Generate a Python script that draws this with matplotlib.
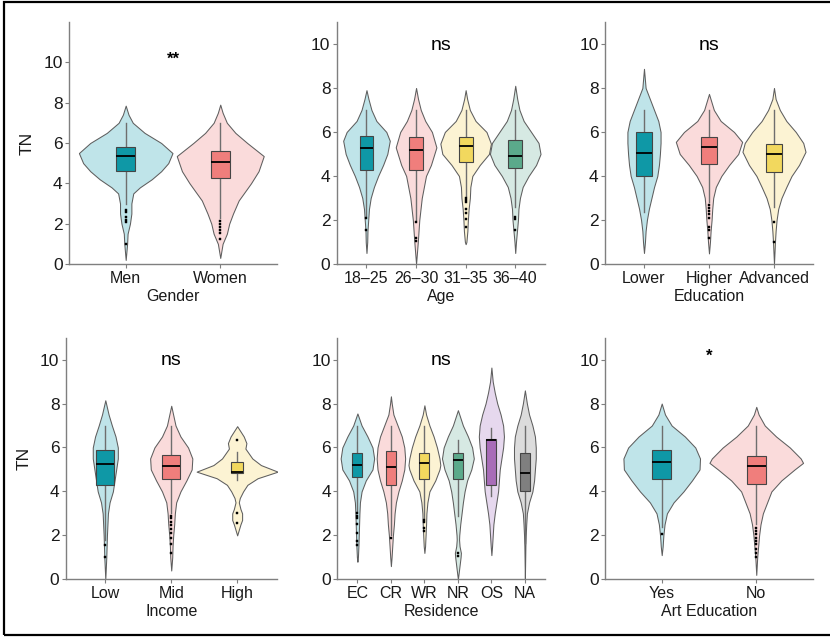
import matplotlib
matplotlib.use("Agg")
import matplotlib.pyplot as plt
from matplotlib.patches import Rectangle

plt.rcParams['font.family'] = ['Liberation Sans', 'DejaVu Sans']

# ---- data ----
# violin outlines: (TN value, full width in category units)
gender_labels = ["Men", "Women"]
gender_violin = [
    [(0.2, 0), (1, .03), (1.5, .04), (2, .09), (2.5, .12), (3, .12), (3.5, .16), (3.8, .3), (4.2, .55),
     (4.6, .75), (5, .9), (5.5, .99), (6, .75), (6.5, .4), (7, .15), (7.4, .06), (7.85, 0)],
    [(0.3, 0), (1, .05), (1.5, .14), (2, .19), (2.5, .27), (3.15, .39), (4, .65), (4.6, .81), (5.35, .92),
     (6, .57), (6.5, .32), (7, .14), (7.5, .05), (7.9, 0)],
]
gender_box = [(4.63, 5.35, 5.81, 2.95, 7.0), (4.27, 5.07, 5.62, 2.3, 7.0)]
gender_out = [[2.7, 2.6, 2.35, 2.2, 2.1, 1.0], [2.15, 2.0, 1.85, 1.7, 1.55, 1.22]]

age_labels = ["18\u201325", "26\u201330", "31\u201335", "36\u201340"]
age_violin = [
    [(0.5, 0), (1, .03), (1.5, .04), (2, .07), (2.5, .1), (3, .17), (3.5, .3), (4, .47), (4.5, .67), (5, .84),
     (5.6, .94), (6, .8), (6.5, .4), (7, .2), (7.5, .08), (7.9, 0)],
    [(0, 0), (1, .07), (2, .13), (3, .23), (4, .4), (4.5, .6), (5.3, .82), (6, .64), (6.5, .37), (7, .19),
     (7.5, .08), (8.0, 0)],
    [(0.9, 0), (1, .03), (1.5, .07), (2, .09), (2.5, .12), (3, .17), (3.5, .19), (4, .27), (4.5, .57), (5, .94),
     (5.47, 1.02), (6, .84), (6.5, .4), (7, .17), (7.5, .06), (7.9, 0)],
    [(0.5, 0), (1, .03), (1.5, .07), (2, .11), (2.5, .13), (3, .19), (3.5, .3), (4, .54), (4.5, .84), (5, 1.02),
     (5.5, .94), (6, .64), (6.5, .34), (7, .17), (7.5, .08), (8.1, 0)],
]
age_box = [(4.29, 5.29, 5.82, 2.2, 7.0), (4.29, 5.2, 5.77, 2.0, 7.0),
           (4.65, 5.38, 5.76, 3.1, 7.0), (4.38, 4.92, 5.65, 2.6, 7.0)]
age_out = [[2.1, 1.55], [1.9, 1.2, 1.05], [3.0, 2.9, 2.8, 2.5, 2.3, 2.05, 1.7], [2.15, 2.05, 1.55]]

edu_labels = ["Lower", "Higher", "Advanced"]
edu_violin = [
    [(0.5, 0), (1, .03), (1.5, .05), (2, .09), (2.5, .15), (3, .23), (3.5, .31), (4, .41), (4.5, .46), (5, .49),
     (5.5, .51), (6, .51), (6.5, .44), (7, .31), (7.5, .18), (8, .05), (8.87, 0)],
    [(0.48, 0), (1, .03), (1.5, .05), (2, .08), (2.5, .1), (3, .13), (3.5, .21), (4, .38), (4.5, .62), (5, .9),
     (5.55, 1.02), (6, .77), (6.5, .36), (7, .15), (7.73, 0)],
    [(0, 0), (1, .03), (1.5, .05), (2, .08), (2.5, .13), (3, .23), (3.5, .38), (4, .54), (4.5, .77), (5.1, .97),
     (5.5, .9), (6, .67), (6.5, .38), (7, .18), (7.5, .05), (8.0, 0)],
]
edu_box = [(3.99, 5.06, 6.0, 2.36, 7.0), (4.56, 5.3, 5.76, 2.8, 7.0), (4.18, 5.02, 5.47, 2.6, 7.0)]
edu_out = [[], [2.7, 2.55, 2.4, 2.25, 2.1, 1.7, 1.55, 1.2], [1.9, 1.0]]

inc_labels = ["Low", "Mid", "High"]
inc_violin = [
    [(0, 0), (1, .03), (2, .05), (3, .08), (3.5, .13), (4, .23), (4.5, .28), (5, .33), (5.5, .38), (6, .38),
     (6.5, .31), (7, .2), (7.5, .1), (8.15, 0)],
    [(0.4, 0), (1, .03), (1.5, .04), (2, .06), (2.5, .09), (3, .11), (3.5, .15), (4, .28), (4.5, .46), (5, .62),
     (5.5, .64), (6, .51), (6.5, .28), (7, .13), (7.9, 0)],
    [(2.0, 0), (2.2, .04), (2.5, .1), (2.7, .15), (3.0, .15), (3.2, .1), (3.5, .05), (3.7, .08), (4, .18),
     (4.3, .31), (4.6, .62), (4.9, 1.23), (5.2, .72), (5.5, .46), (5.95, .25), (6.2, .28), (6.5, .2),
     (6.97, 0)],
]
inc_box = [(4.27, 5.27, 5.9, 1.8, 7.0), (4.55, 5.18, 5.64, 3.0, 7.0), (4.82, 4.9, 5.35, 4.5, 5.8)]
inc_out = [[1.55, 1.0], [2.9, 2.8, 2.6, 2.45, 2.3, 2.1, 1.9, 1.6, 1.2], [6.35, 3.0, 2.55]]

res_labels = ["EC", "CR", "WR", "NR", "OS", "NA"]
res_violin = [
    [(0.8, 0), (1, .03), (1.5, .06), (2, .08), (2.5, .1), (3, .12), (3.5, .15), (4, .25), (4.5, .5), (5, .9),
     (5.5, 1.0), (6, .9), (6.5, .6), (7, .25), (7.55, 0)],
    [(0.6, 0), (1, .04), (1.5, .08), (2, .12), (2.5, .18), (3, .22), (3.5, .3), (4, .45), (4.5, .65), (5, .8),
     (5.5, .85), (6, .8), (6.5, .65), (7, .4), (7.5, .15), (8, .05), (8.33, 0)],
    [(1.2, 0), (1.5, .04), (2, .07), (2.5, .1), (3, .12), (3.5, .18), (4, .3), (4.5, .65), (5, .9), (5.2, .95),
     (5.5, .9), (6, .75), (6.5, .55), (7, .3), (7.5, .1), (7.92, 0)],
    [(0, 0), (0.5, .08), (1, .16), (1.2, .18), (1.5, .1), (1.8, .07), (2, .08), (2.5, .14), (3, .22), (3.5, .3),
     (4, .4), (4.5, .55), (5, .8), (5.5, .95), (6, .85), (6.5, .6), (7, .3), (7.7, 0)],
    [(1.1, 0), (1.5, .04), (2, .08), (2.5, .12), (3, .2), (3.5, .3), (4, .4), (4.5, .45), (5, .5), (5.5, .6),
     (6, .7), (6.5, .75), (7, .7), (7.5, .55), (8, .35), (8.5, .2), (9, .08), (9.64, 0)],
    [(0, 0), (1, .02), (1.5, .03), (2, .05), (2.5, .08), (3, .12), (3.5, .25), (4, .45), (4.5, .55), (5, .6),
     (5.5, .65), (6, .65), (6.5, .6), (7, .45), (7.5, .25), (8, .12), (8.6, 0)],
]
res_box = [(4.65, 5.2, 5.75, 3.1, 7.0), (4.28, 5.1, 5.83, 2.0, 7.0), (4.55, 5.28, 5.75, 2.8, 7.0),
           (4.55, 5.42, 5.75, 2.9, 6.33), (4.28, 6.35, 6.38, 3.8, 6.9), (4.0, 4.82, 5.75, 1.64, 7.0)]
res_out = [[3.0, 2.9, 2.8, 2.5, 2.1, 1.75, 1.55], [1.9], [2.7, 2.6, 2.35, 2.2], [1.2, 1.05], [], []]

art_labels = ["Yes", "No"]
art_violin = [
    [(1.1, 0), (1.5, .02), (2, .035), (2.5, .06), (3, .11), (3.5, .25), (4, .46), (4.5, .64), (5, .8),
     (5.5, .81), (6, .71), (6.5, .49), (7, .21), (7.5, .07), (8.0, 0)],
    [(0.2, 0), (1, .02), (1.5, .04), (2, .06), (2.5, .09), (3, .14), (3.5, .23), (4, .32), (4.5, .53), (5, .81),
     (5.3, .99), (5.5, .94), (6, .71), (6.5, .42), (7, .18), (7.5, .05), (7.85, 0)],
]
art_box = [(4.55, 5.32, 5.9, 2.4, 7.0), (4.36, 5.18, 5.62, 2.5, 7.0)]
art_out = [[2.05], [2.35, 2.2, 2.05, 1.9, 1.75, 1.6, 1.4, 1.2, 1.0]]

light = ["#BFE4E9", "#FADBDB", "#FCF3D3", "#D6E9E3", "#E6D8EE", "#DCDCDC"]
dark = ["#0F98A6", "#F07E7C", "#F2D85E", "#5BAA8B", "#A86CB8", "#7F7F7F"]


def panel(ax, labels, violins, boxes, outs, xlabel, sig, ymax, boxw, ylabel=None):
    for i, prof in enumerate(violins):
        pos = i + 1
        ys = [p[0] for p in prof]
        ws = [p[1] / 2 for p in prof]
        ax.fill_betweenx(ys, [pos - w for w in ws], [pos + w for w in ws],
                         facecolor=light[i], edgecolor="#5E5E5E", linewidth=0.75, zorder=1)
    stats = []
    for (q1, med, q3, lo, hi), fl in zip(boxes, outs):
        stats.append(dict(q1=q1, med=med, q3=q3, whislo=lo, whishi=hi, fliers=fl))
    bp = ax.bxp(stats, positions=range(1, len(stats) + 1), widths=boxw, patch_artist=True,
                showcaps=False, manage_ticks=False,
                whiskerprops=dict(color="#6E6E6E", linewidth=1.0),
                medianprops=dict(color="black", linewidth=1.3),
                flierprops=dict(marker="s", markersize=1.7, markerfacecolor="black",
                                markeredgecolor="black", markeredgewidth=0.3))
    for i, b in enumerate(bp["boxes"]):
        b.set_facecolor(dark[i])
        b.set_edgecolor("#454545")
        b.set_linewidth(0.8)
        b.set_zorder(3)
    for k in ("whiskers", "medians", "fliers"):
        for a in bp[k]:
            a.set_zorder(4 if k != "whiskers" else 2)

    n = len(labels)
    ax.set_xlim(0.4, n + 0.6)
    ax.set_ylim(0, ymax)
    ax.set_xticks(range(1, n + 1))
    ax.set_xticklabels(labels)
    ax.set_yticks([0, 2, 4, 6, 8, 10])
    ax.tick_params(colors="#7F7F7F", labelcolor="#1A1A1A", labelsize=11.5, length=3, width=0.8, pad=2)
    ax.tick_params(axis="y", labelsize=12.5, pad=1.5)
    for s in ("top", "right"):
        ax.spines[s].set_visible(False)
    for s in ("left", "bottom"):
        ax.spines[s].set_color("#7F7F7F")
        ax.spines[s].set_linewidth(1.0)
    ax.set_xlabel(xlabel, fontsize=11.5, color="#1A1A1A", labelpad=2)
    if ylabel:
        ax.set_ylabel(ylabel, fontsize=12.5, color="#1A1A1A", labelpad=6)
    if sig.startswith("*"):
        ax.text((n + 1) / 2, 10.15, sig, ha="center", va="center", fontsize=12, fontweight="bold")
    else:
        ax.text((n + 1) / 2, 9.95, sig, ha="center", va="center", fontsize=14)


fig = plt.figure(figsize=(8.3, 6.37), dpi=100)
top_b, top_h = 0.5856, 0.9655 - 0.5856
bot_b, bot_h = 0.0906, 0.4699 - 0.0906
ax1 = fig.add_axes([0.0831, top_b, 0.2506, top_h])
ax2 = fig.add_axes([0.4057, top_b, 0.2509, top_h])
ax3 = fig.add_axes([0.7289, top_b, 0.2506, top_h])
ax4 = fig.add_axes([0.0792, bot_b, 0.2542, bot_h])
ax5 = fig.add_axes([0.4064, bot_b, 0.2502, bot_h])
ax6 = fig.add_axes([0.7289, bot_b, 0.2506, bot_h])

panel(ax1, gender_labels, gender_violin, gender_box, gender_out, "Gender", "**", 12, 0.2, "TN")
panel(ax2, age_labels, age_violin, age_box, age_out, "Age", "ns", 11, 0.28)
panel(ax3, edu_labels, edu_violin, edu_box, edu_out, "Education", "ns", 11, 0.26)
panel(ax4, inc_labels, inc_violin, inc_box, inc_out, "Income", "ns", 11, [0.27, 0.27, 0.19], "TN")
panel(ax5, res_labels, res_violin, res_box, res_out, "Residence", "ns", 11, 0.3)
panel(ax6, art_labels, art_violin, art_box, art_out, "Art Education", "*", 11, 0.2)

# outer frame
fig.patches.append(Rectangle((0.0048, 0.0039), 1.2, 0.9934, transform=fig.transFigure,
                             fill=False, edgecolor="black", linewidth=1.6))

fig.savefig("out.png", dpi=100)
